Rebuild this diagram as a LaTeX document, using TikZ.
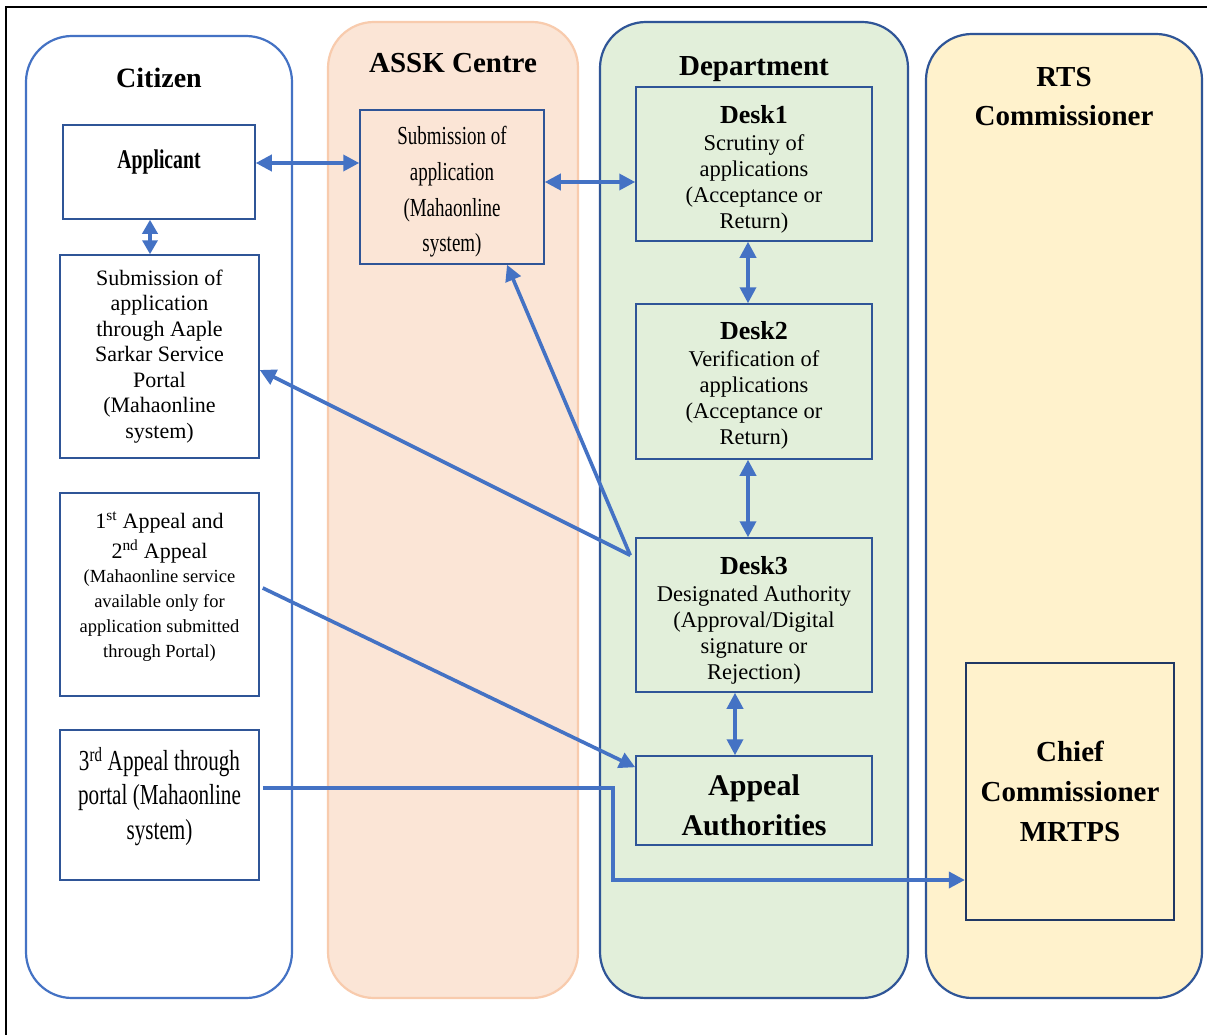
\documentclass[tikz,border=0pt]{standalone}
\usepackage{fontspec}
\setmainfont{Liberation Serif}
\newfontfamily\cond[FakeStretch=0.73]{Liberation Serif}
\usetikzlibrary{arrows.meta,calc}
\definecolor{lblue}{HTML}{4472C4}
\definecolor{dblue}{HTML}{2F5597}
\definecolor{navy}{HTML}{203864}
\definecolor{peach}{HTML}{FBE5D6}
\definecolor{peachline}{HTML}{F8CBAD}
\definecolor{mint}{HTML}{E2EFDA}
\definecolor{cream}{HTML}{FFF2CC}
\begin{document}
\begin{tikzpicture}[x=1pt,y=-1pt,
  lane/.style={rounded corners=46pt, line width=2.2pt, inner sep=0pt},
  lanetitle/.style={font=\fontsize{29}{39}\selectfont\bfseries, align=flush center, inner sep=0pt},
  box/.style={draw=dblue, line width=1.5pt, inner sep=0pt, align=flush center,
              font=\fontsize{22.5}{26}\selectfont},
  arr/.style={draw=lblue, line width=3.6pt, -{Triangle[length=16pt,width=16pt]}},
  dbl/.style={draw=lblue, line width=3.6pt, {Triangle[length=16pt,width=16pt]}-{Triangle[length=16pt,width=16pt]}},
  dblshort/.style={draw=lblue, line width=3.6pt, {Triangle[length=14pt,width=15pt]}-{Triangle[length=14pt,width=15pt]}}
]
\useasboundingbox (0,0) rectangle (1207,1035);
\fill[white] (0,0) rectangle (1207,1035);
% outer frame (top and left)
\draw[line width=2pt] (6,1035) -- (6,7) -- (1207,7);

% lanes
\node[lane, draw=lblue, fill=white, minimum width=266pt, minimum height=962pt] (citlane) at (159,517) {};
\node[lane, draw=peachline, fill=peach, minimum width=250pt, minimum height=976pt] (assklane) at (453,510) {};
\node[lane, draw=dblue, fill=mint, minimum width=308pt, minimum height=976pt] (deptlane) at (754,510) {};
\node[lane, draw=dblue, fill=cream, minimum width=276pt, minimum height=964pt] (rtslane) at (1064,516) {};

% lane titles
\node[lanetitle, font=\fontsize{28}{34}\selectfont\bfseries] (tcit) at (159,78) {Citizen};
\node[lanetitle] (tassk) at (453,63) {ASSK Centre};
\node[lanetitle] (tdept) at (754,69) {Department};
\node[lanetitle] (trts) at (1064,97) {RTS\\Commissioner};

% citizen boxes
\node[box, fill=white, minimum width=192pt, minimum height=94pt, text width=188pt,
      text height=20pt, text depth=26pt, font=\cond\fontsize{27}{30}\selectfont\bfseries] (app) at (159,172) {Applicant};
\node[box, fill=white, minimum width=199pt, minimum height=203pt, text width=195pt,
      font=\fontsize{22}{25.5}\selectfont] (portal) at (159.5,356.5)
  {Submission of\\application\\through Aaple\\Sarkar Service\\Portal\\(Mahaonline\\system)};
\node[box, fill=white, minimum width=199pt, minimum height=203pt, text width=195pt,
      font=\fontsize{22}{30}\selectfont] (ap1) at (159.5,594.5)
  {1\textsuperscript{st} Appeal and\\2\textsuperscript{nd} Appeal\par
   \fontsize{18.5}{24.7}\selectfont (Mahaonline service\\available only for\\application submitted\\through Portal)\rule[-20pt]{0pt}{1pt}\par};
\node[box, fill=white, minimum width=199pt, minimum height=150pt, text width=195pt,
      font=\cond\fontsize{29}{34.5}\selectfont] (ap3) at (159.5,805)
  {3\textsuperscript{rd} Appeal through\\portal (Mahaonline\\system)\rule[-24pt]{0pt}{1pt}};

% ASSK box
\node[box, fill=peach, minimum width=184pt, minimum height=154pt, text width=180pt,
      font=\cond\fontsize{26}{35.7}\selectfont] (assk) at (452,187)
  {\rule{0pt}{28pt}Submission of\\application\\(Mahaonline\\system)};

% department boxes
\node[box, fill=mint, minimum width=236pt, minimum height=154pt, text width=232pt] (desk1) at (754,164)
  {{\bfseries\fontsize{26}{29}\selectfont\rule{0pt}{29pt}Desk1\par}\vspace{1pt}
   Scrutiny of\\applications\\(Acceptance or\\Return)};
\node[box, fill=mint, minimum width=236pt, minimum height=155pt, text width=232pt] (desk2) at (754,381.5)
  {{\bfseries\fontsize{26}{29}\selectfont\rule{0pt}{26pt}Desk2\par}\vspace{1pt}
   Verification of\\applications\\(Acceptance or\\Return)};
\node[box, fill=mint, minimum width=236pt, minimum height=154pt, text width=232pt] (desk3) at (754,615)
  {{\bfseries\fontsize{26}{29}\selectfont\rule{0pt}{29pt}Desk3\par}\vspace{1pt}
   Designated Authority\\(Approval/Digital\\signature or\\Rejection)};
\node[box, fill=mint, minimum width=236pt, minimum height=89pt, text width=232pt,
      font=\fontsize{30}{40}\selectfont\bfseries] (appauth) at (754,800.5)
  {\rule{0pt}{30.5pt}Appeal\\Authorities};

% RTS box
\node[box, draw=navy, line width=2.2pt, fill=cream, minimum width=208pt, minimum height=257pt, text width=204pt,
      font=\fontsize{29}{40}\selectfont\bfseries] (chief) at (1070,791.5)
  {Chief\\Commissioner\\MRTPS};

% connectors
\draw[dbl] ([yshift=9pt]app.east) -- ([yshift=9pt]app.east -| assk.west);
\draw[dblshort] ([xshift=-9pt]app.south) -- ([xshift=-9pt]app.south |- portal.north);
\draw[dbl] ([yshift=5pt]assk.east) -- ([yshift=5pt]assk.east -| desk1.west);
\draw[dbl] ([xshift=-6pt]desk1.south) -- ([xshift=-6pt]desk2.north);
\draw[dbl] ([xshift=-6pt]desk2.south) -- ([xshift=-6pt]desk3.north);
\draw[dbl] ([xshift=-19pt]desk3.south) -- ([xshift=-19pt]appauth.north);

\coordinate (d3out) at ([xshift=-5pt,yshift=-18pt]desk3.north west);
\draw[arr] (d3out) -- ([yshift=-13.5pt]portal.east);
\draw[arr] (d3out) -- ([xshift=55pt]assk.south);

\coordinate (ap1out) at ([xshift=3pt,yshift=6.5pt]ap1.east);
\draw[arr] (ap1out) -- ([yshift=-12pt]appauth.north west);

\coordinate (ap3out) at ([xshift=3pt,yshift=17pt]ap3.east);
\coordinate (chin) at ([yshift=-88.5pt]chief.west);
\coordinate (bendx) at (613,0);
\draw[arr] (ap3out) -- (ap3out -| bendx) -- (bendx |- chin) -- (chin);
\end{tikzpicture}
\end{document}
